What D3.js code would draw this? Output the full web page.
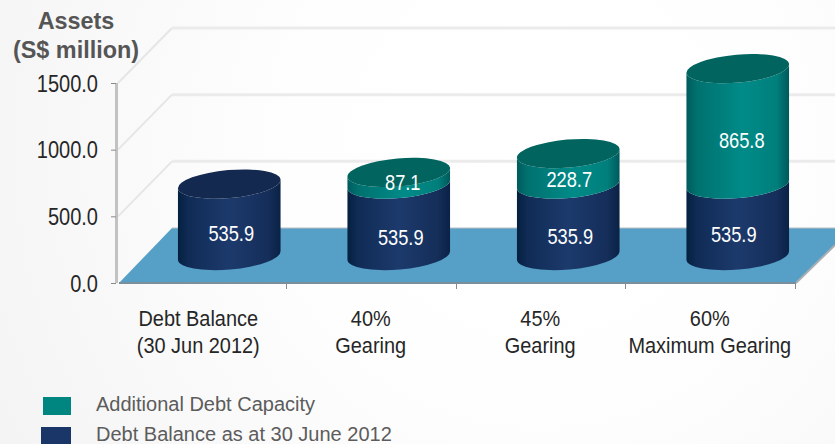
<!DOCTYPE html>
<html><head><meta charset="utf-8">
<script src="https://cdn.jsdelivr.net/npm/d3@7/dist/d3.min.js"></script>
<style>html,body{margin:0;padding:0;background:#fff;overflow:hidden}svg{display:block}text{font-family:"Liberation Sans",Arial,sans-serif}</style>
</head><body><svg id="c" width="835" height="444"></svg>
<script>
const categories = [["Debt Balance","(30 Jun 2012)"],["40%","Gearing"],["45%","Gearing"],["60%","Maximum Gearing"]];
const debtBalance = [535.9,535.9,535.9,535.9];
const additionalDebt = [null,87.1,228.7,865.8];
const yTicks = [0,500,1000,1500];
const legendLabels = ["Additional Debt Capacity","Debt Balance as at 30 June 2012"];
const titleLines = ["Assets","(S$ million)"];
// small label nudges (layout only)
const debtNudge = [[2,5],[2,9],[2,8],[-4,6]];
const addNudge = [[0,0],[4,4],[1,10],[4,14]];
const catNudge = [-3,0,0,0];

const svg = d3.select("#c");
const defs = svg.append("defs");
const bg = defs.append("radialGradient").attr("id","bg").attr("gradientUnits","userSpaceOnUse")
  .attr("cx",540).attr("cy",150).attr("r",600);
[[0,"#ffffff"],[.42,"#fefefe"],[.72,"#f9f9f9"],[1,"#f4f4f4"]].forEach(s=>bg.append("stop").attr("offset",s[0]).attr("stop-color",s[1]));
function grad(id,stops){const g=defs.append("linearGradient").attr("id",id).attr("x1",0).attr("x2",1).attr("y1",0).attr("y2",0);
  stops.forEach(s=>g.append("stop").attr("offset",s[0]).attr("stop-color",s[1]));}
grad("navy",[[0,"#04203f"],[.1,"#102b55"],[.5,"#1c3a6c"],[.88,"#152e5a"],[1,"#0a2245"]]);
grad("teal",[[0,"#005a5c"],[.1,"#00716f"],[.55,"#008b88"],[.88,"#007f7c"],[1,"#00595b"]]);
svg.append("rect").attr("width",835).attr("height",444).attr("fill","url(#bg)");

// squeeze text horizontally, keeping its height (the reference's text is condensed)
function squeeze(sel,f){sel.each(function(){const n=this.getComputedTextLength();
  this.setAttribute("textLength",n*f);this.setAttribute("lengthAdjust","spacingAndGlyphs");});}

const y = d3.scaleLinear().domain([0,1500]).range([283,83]);
const x = d3.scaleBand().domain(d3.range(categories.length)).range([116.5,794.5]);
const depthX = 54, depthY = 55;

// walls: gridlines
const grid = svg.append("g").attr("fill","none").attr("stroke","#ebebeb").attr("stroke-width",3);
yTicks.slice(1).forEach(t=>{
  grid.append("path").attr("d",d3.line()([[118,y(t)],[118+depthX,y(t)-depthY]])).attr("stroke-width",2).attr("stroke","#e6e6e6");
  grid.append("path").attr("d",d3.line()([[118+depthX,y(t)-depthY],[835,y(t)-depthY]]));
});
// floor
svg.append("path").attr("d",d3.line()([[119,y(0)],[118+depthX,y(0)-depthY],[835,y(0)-depthY],[835,245],[796,y(0)]])+"Z").attr("fill","#569fc6");
svg.append("path").attr("d",d3.line()([[172,y(0)-depthY],[835,y(0)-depthY]])).attr("stroke","#b9bfc4").attr("stroke-width",1).attr("fill","none");
svg.append("path").attr("d",d3.line()([[796,y(0)],[835,245]])).attr("stroke","#a9aeb2").attr("stroke-width",2).attr("fill","none");
svg.append("path").attr("d",d3.line()([[119,y(0)],[796,y(0)]])).attr("stroke","#7b8e9c").attr("stroke-width",2).attr("fill","none");

// axes
const yAxis = d3.axisLeft(y).tickValues(yTicks).tickFormat(d3.format(".1f")).tickSize(5).tickPadding(13);
const gy = svg.append("g").attr("transform","translate(116,0)").call(yAxis);
gy.select(".domain").attr("stroke","#c2c2c2").attr("stroke-width",3).attr("d","M0.5,83V283");
gy.selectAll(".tick line").attr("stroke","#8a8a8a");
gy.selectAll("text").attr("font-size",23).attr("fill","#262626").attr("font-family","Liberation Sans").attr("dy","0.36em").call(squeeze,.87);
const xAxis = d3.axisBottom(x).tickValues([]).tickSize(0);
const gx = svg.append("g").attr("transform","translate(0,283)").call(xAxis);
gx.select(".domain").remove();
d3.range(categories.length+1).forEach(i=>{
  const px = i<categories.length ? x(i) : x.range()[1];
  if(i>0) gx.append("line").attr("x1",Math.round(px)+.5).attr("x2",Math.round(px)+.5).attr("y1",0).attr("y2",6).attr("stroke","#8a8a8a");
});
// category labels
categories.forEach((c,i)=>{
  c.forEach((l,k)=>svg.append("text").attr("x",x(i)+x.bandwidth()/2+catNudge[i]).attr("y",326+k*27).attr("text-anchor","middle")
    .attr("font-size",22).attr("fill","#262626").text(l).call(squeeze,.905));
});

// cylinders
const rx=51.5, ry=14, deg=-5, th=deg*Math.PI/180, baseY=255.5;
const ex=rx*Math.cos(th), ey=rx*Math.sin(th);
const pxPer = v => y(0)-y(v);
function cylinder(g,cx,yBot,yTop,fill,top){
  const l=[cx-ex,yBot-ey], r=[cx+ex,yBot+ey], lt=[cx-ex,yTop-ey], rt=[cx+ex,yTop+ey];
  g.append("path").attr("fill",`url(#${fill})`)
   .attr("d",`M${lt}L${l}A${rx},${ry} ${deg} 0 0 ${r}L${rt}A${rx},${ry} ${deg} 0 1 ${lt}Z`);
  if(top) g.append("ellipse").attr("cx",cx).attr("cy",yTop).attr("rx",rx).attr("ry",ry)
   .attr("transform",`rotate(${deg} ${cx} ${yTop})`).attr("fill",top);
}
const valueText=(g,px,py,v)=>g.append("text").attr("x",px).attr("y",py).attr("text-anchor","middle").attr("dy","0.36em")
  .attr("fill","#fff").attr("font-size",22).attr("font-family","Noto Sans, Open Sans, sans-serif")
  .text(v.toFixed(1)).call(squeeze,.83);
categories.forEach((c,i)=>{
  const g=svg.append("g");
  const cx=x(i)+x.bandwidth()/2+28;
  const d=debtBalance[i], a=additionalDebt[i];
  const y1=baseY-pxPer(d);
  cylinder(g,cx,baseY,y1,"navy",a==null?"#13294f":null);
  if(a!=null){ cylinder(g,cx,y1,y1-pxPer(a),"teal","#01645f"); }
  valueText(g,cx+debtNudge[i][0],baseY-pxPer(d)/2+debtNudge[i][1]+8,d);
  if(a!=null) valueText(g,cx+addNudge[i][0],y1-pxPer(a)/2+addNudge[i][1],a);
});

// title
titleLines.forEach((t,k)=>svg.append("text").attr("x",76).attr("y",29+k*29).attr("text-anchor","middle")
  .attr("font-size",23.4).attr("font-weight","bold").attr("fill","#555").text(t));
// legend
const legendFill=["#008681","#1a3668"], legendBox=[[43,397,28,18],[41,427,30,17]];
legendLabels.forEach((t,k)=>{
  svg.append("rect").attr("x",legendBox[k][0]).attr("y",legendBox[k][1]).attr("width",legendBox[k][2]).attr("height",legendBox[k][3]).attr("fill",legendFill[k]);
  svg.append("text").attr("x",96).attr("y",411+k*30).attr("font-size",20).attr("fill","#5c5c5c").text(t);
});
</script></body></html>
